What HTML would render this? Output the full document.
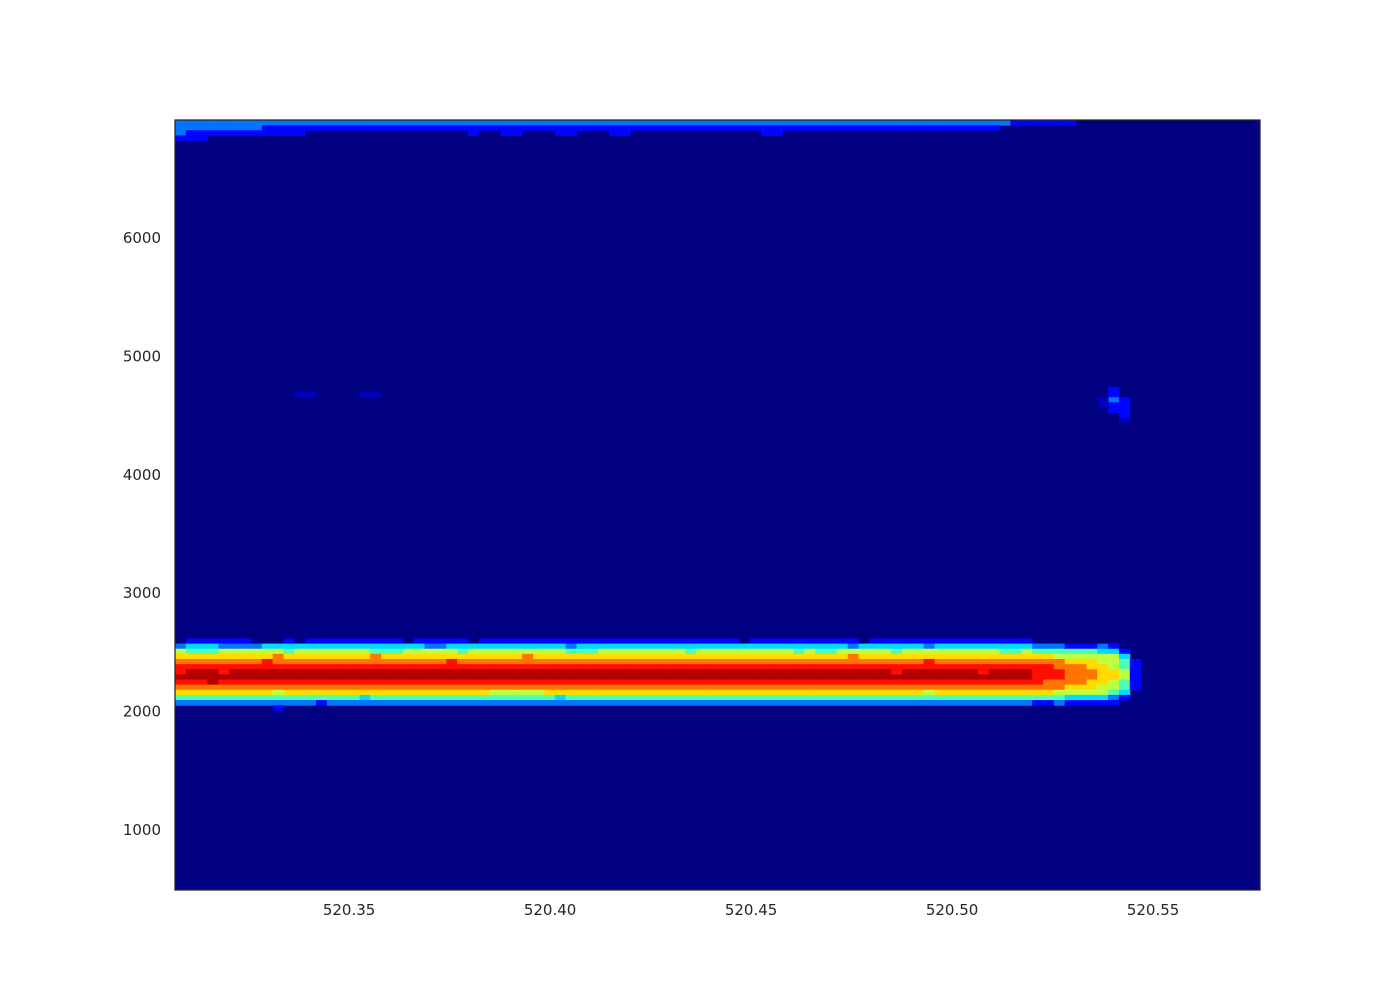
<!DOCTYPE html>
<html><head><meta charset="utf-8"><style>
body{margin:0;background:#fff;}
svg{display:block;font-family:"DejaVu Sans","Liberation Sans",sans-serif;}
</style></head><body>
<svg id="chart" width="1400" height="1000" viewBox="0 0 1400 1000"></svg>
<script>
// axis domain
const xDomain = [520.3067, 520.5766];
const yDomain = [494, 6996];
const nCols = 100;
const nRows = 150;
const xTicks = [520.35, 520.40, 520.45, 520.50, 520.55];
const xTickLabels = ["520.35", "520.40", "520.45", "520.50", "520.55"];
const yTicks = [1000, 2000, 3000, 4000, 5000, 6000];
const yTickLabels = ["1000", "2000", "3000", "4000", "5000", "6000"];
// main band rows (row index from top = bandStartRow + i), columns 0..78
const bandStartRow = 101;
const bandRows = [
"0111111000101111111110111110111111111111111111111111011111111110111111111111111",
"2333222233333333333333322333333333332333333333333333333333333323333332333333333",
"5444555555455555554445555545555555554445555555545555555554544555554555555555445",
"6666666667666666667666666666666676666666666666666666666666666676666666666666666",
"7777777787777777777777777877777777777777777777777777777777777777777778777777777",
"8888888888888888888888888888888888888888888888888888888888888888888888888888888",
"8999899999999999999999999999999999999999999999999999999999999999998999999989999",
"9999999999999999999999999999999999999999999999999999999999999999999999999999999",
"8889888888888888888888888888888888888888888888888888888888888888888888888888888",
"7777777777777777777777777777777777777777777777777777777777777777777777777777777",
"6666666665666666666666666666655555666666666666666666666666666666666665666666666",
"4444444444444444434444444444444444434444444444444444444444444444444444444444444",
"2222222222222122222222222222222222222222222222222222222222222222222222222222222",
"0000000001000000000000000000000000000000000000000000000000000000000000000000000"
];
// tail columns 79..88 (each string = rows top..bottom of band)
const tailStartCol = 79;
const tailCols = [
"02467888876410",
"02467888776410",
"02457788775420",
"01456777765310",
"01456777765310",
"01456677665310",
"02355666655310",
"01355566554210",
"00134455443100",
"00001111110000"
];
// top band rows 0..3, columns 0..82
const topRows = [
"22222222222222222222222222222222222222222222222222222222222222222222222222222111111",
"22222222111111111111111111111111111111111111111111111111111111111111111111110000000",
"2111111111110000000000000001001100011000110000000000001100000000000000000000000000",
"1110000000000000000000000000000000000000000000000000000000000000000000000000000000"
];
// isolated cells: [col, row, level]
const blips = [
[11,53,"h"],[12,53,"h"],[17,53,"h"],[18,53,"h"],
[86,52,"1"],[86,53,"1"],[86,54,"2"],[86,55,"1"],[86,56,"1"],
[85,54,"h"],[85,55,"h"],
[87,54,"1"],[87,55,"1"],[87,56,"1"],[87,57,"1"],[87,58,"h"]
];
const levelValue = {"0":0,"h":0.06,"1":0.13,"2":0.24,"3":0.34,"4":0.45,"5":0.56,"6":0.66,"7":0.76,"8":0.86,"9":0.95};

const L=175,R=1260,T=120,B=890;
const NS="http://www.w3.org/2000/svg";
const svg=document.getElementById('chart');
function xs(v){return L+(v-xDomain[0])/(xDomain[1]-xDomain[0])*(R-L);}
function ys(v){return B-(v-yDomain[0])/(yDomain[1]-yDomain[0])*(B-T);}
const dx=(xDomain[1]-xDomain[0])/nCols, dy=(yDomain[1]-yDomain[0])/nRows;
function jet(v){
  const c=t=>Math.max(0,Math.min(1,t));
  const r=c(1.5-Math.abs(4*v-3)),g=c(1.5-Math.abs(4*v-2)),b=c(1.5-Math.abs(4*v-1));
  return `rgb(${Math.round(r*255)},${Math.round(g*255)},${Math.round(b*255)})`;
}
function mk(tag,attrs){const e=document.createElementNS(NS,tag);for(const k in attrs)e.setAttribute(k,attrs[k]);return e;}
const bg=mk('rect',{x:L,y:T,width:R-L,height:B-T,fill:jet(0)});


svg.appendChild(bg);
const g=mk('g',{});


svg.appendChild(g);
function cell(c,r,lv){
  const v=levelValue[lv]; if(!v) return;
  const x0=xs(xDomain[0]+c*dx), x1=xs(xDomain[0]+(c+1)*dx);
  const y0=ys(yDomain[1]-r*dy), y1=ys(yDomain[1]-(r+1)*dy);
  const e=mk('rect',{x:x0,y:y0,width:x1-x0+0.5,height:y1-y0+0.5,fill:jet(v)});
  
  
  g.appendChild(e);
}
bandRows.forEach((s,i)=>{for(let c=0;c<s.length&&c<tailStartCol;c++)cell(c,bandStartRow+i,s[c]);});
tailCols.forEach((s,j)=>{for(let i=0;i<s.length;i++)cell(tailStartCol+j,bandStartRow+i,s[i]);});
topRows.forEach((s,r)=>{for(let c=0;c<s.length;c++)cell(c,r,s[c]);});
blips.forEach(b=>cell(b[0],b[1],b[2]));
const frame=mk('rect',{x:L,y:T,width:R-L,height:B-T,fill:'none',stroke:'#262626','stroke-width':1.25});


svg.appendChild(frame);
xTicks.forEach((t,i)=>{
  const e=mk('text',{x:xs(t),y:915,'text-anchor':'middle','font-size':15,fill:'#262626'});
  e.textContent=xTickLabels[i];
  
  
  svg.appendChild(e);
});
yTicks.forEach((t,i)=>{
  const e=mk('text',{x:161,y:ys(t)+5,'text-anchor':'end','font-size':15,fill:'#262626'});
  e.textContent=yTickLabels[i];
  
  
  svg.appendChild(e);
});
</script>
</body></html>
